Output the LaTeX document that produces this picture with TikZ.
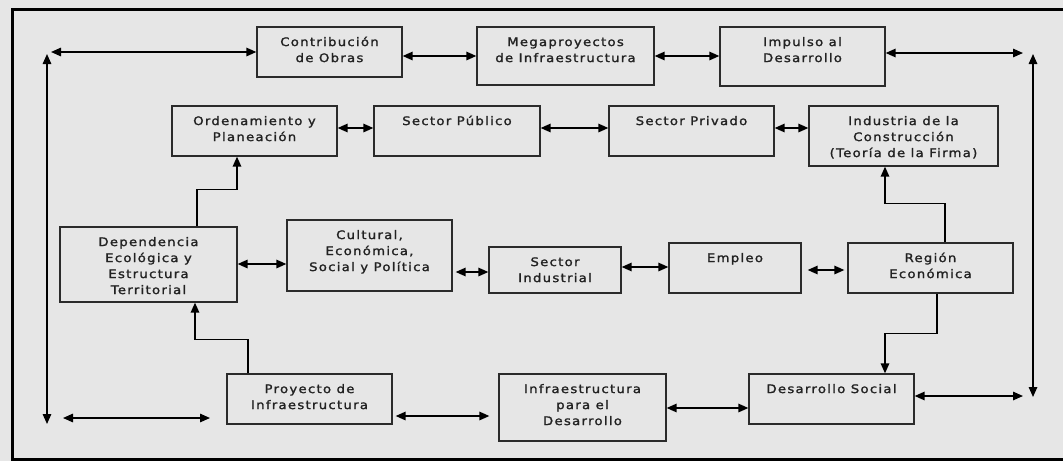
\documentclass[tikz,border=0pt]{standalone}
\usepackage{fontspec}
\setmainfont{DejaVu Sans}[FakeStretch=1.12,LetterSpace=11,FakeBold=1.6]
\usetikzlibrary{arrows.meta,fit}
\definecolor{bg}{HTML}{E6E6E6}
\definecolor{ln}{HTML}{2B2B2B}
\definecolor{tx}{HTML}{222222}
\tikzset{
  blk/.style={draw=ln, line width=1.3pt, inner sep=0pt},
  txt/.style={anchor=north, inner sep=0pt, align=center, text=tx, font=\fontsize{11.8}{16}\selectfont},
  dar/.style={{Triangle[length=10pt,width=8.5pt]}-{Triangle[length=10pt,width=8.5pt]}, line width=1.5pt, draw=black},
  ar/.style={-{Triangle[length=10pt,width=8.5pt]}, line width=1.5pt, draw=black},
}
\newcommand\mkbox[6]{%
  \node[blk, fit={(#2,#3) (#4,#5)}] (#1) {};
  \node[txt] (#1-t) at ([yshift=-8.3pt]#1.north) {\strut #6};
}
\begin{document}
\begin{tikzpicture}[x=1pt,y=-1pt]
\useasboundingbox (0,0) rectangle (1063,461);
\fill[bg] (0,0) rectangle (1063,461);
\draw[line width=3pt] (1063,9) -- (12,9) -- (12,459) -- (1063,459);

\mkbox{contrib}{257}{27}{402}{77}{Contribución\\de Obras}
\mkbox{mega}{477}{27}{654}{85}{Megaproyectos\\de Infraestructura}
\mkbox{impulso}{720}{27}{885}{86}{Impulso al\\Desarrollo}
\mkbox{orden}{172}{106}{337}{156}{Ordenamiento y\\Planeación}
\mkbox{publico}{374}{106}{540}{156}{Sector Público}
\mkbox{privado}{609}{106}{774}{156}{Sector Privado}
\mkbox{industria}{809}{106}{998}{166}{Industria de la\\Construcción\\(Teoría de la Firma)}
\mkbox{depend}{60}{227}{237}{302}{Dependencia\\Ecológica y\\Estructura\\Territorial}
\mkbox{cultural}{287}{220}{452}{291}{Cultural,\\Económica,\\Social y Política}
\mkbox{sindus}{489}{247}{621}{293}{Sector\\Industrial}
\mkbox{empleo}{669}{243}{801}{293}{Empleo}
\mkbox{region}{848}{243}{1013}{293}{Región\\Económica}
\mkbox{proyecto}{227}{374}{392}{424}{Proyecto de\\Infraestructura}
\mkbox{infra}{499}{374}{666}{441}{Infraestructura\\para el\\Desarrollo}
\mkbox{dsocial}{749}{374}{914}{424}{Desarrollo Social}

\coordinate (vT) at (47,54);
\coordinate (vB) at (47,424);
\coordinate (hL) at (51,52);
\coordinate (rT) at (1033,54);
\coordinate (rB) at (1033,397);
\coordinate (rH) at (1023,53);
\coordinate (rL) at (1023,396);
\coordinate (bl1) at (63,418);
\coordinate (bl2) at (210,418);
\coordinate (r2) at (0,128);
\coordinate (r3a) at (0,272);
\coordinate (r3b) at (0,267);
\coordinate (r3c) at (0,270);
\coordinate (r3d) at (0,264);
\coordinate (r4a) at (0,416);
\coordinate (r4b) at (0,408);

% outer loop
\draw[dar] (vT) -- (vB);
\draw[dar] (hL) -- (hL -| contrib.west);
\draw[dar] (rT) -- (rB);
\draw[dar] (impulso.east |- rH) -- (rH);
\draw[dar] (dsocial.east |- rL) -- (rL);
\draw[dar] (bl1) -- (bl2);

% top row
\draw[dar] (contrib.east |- mega.west) -- (mega.west);
\draw[dar] (mega.east) -- (mega.east -| impulso.west);

% second row
\draw[dar] (orden.east |- r2) -- (publico.west |- r2);
\draw[dar] (publico.east |- r2) -- (privado.west |- r2);
\draw[dar] (privado.east |- r2) -- (industria.west |- r2);

% third row
\draw[dar] (depend.east |- r3d) -- (cultural.west |- r3d);
\draw[dar, shorten <=3pt] (cultural.east |- r3a) -- (sindus.west |- r3a);
\draw[dar] (sindus.east |- r3b) -- (empleo.west |- r3b);
\draw[dar, shorten <=6pt, shorten >=3pt] (empleo.east |- r3c) -- (region.west |- r3c);

% bottom row
\draw[dar, shorten <=3pt, shorten >=9pt] (proyecto.east |- r4a) -- (infra.west |- r4a);
\draw[dar] (infra.east |- r4b) -- (dsocial.west |- r4b);

% elbow connectors
\draw[ar] ([xshift=48.5pt]depend.north) -- ++(0,-37) -| ([xshift=-17.5pt]orden.south);
\draw[ar] ([xshift=-61.5pt]proyecto.north) -- ++(0,-34) -| ([xshift=46.5pt]depend.south);
\draw[ar] ([xshift=14.5pt]region.north) -- ++(0,-39) -| ([xshift=-18.5pt]industria.south);
\draw[ar] ([xshift=6.5pt]region.south) -- ++(0,40) -| ([xshift=53.5pt]dsocial.north);
\end{tikzpicture}
\end{document}
